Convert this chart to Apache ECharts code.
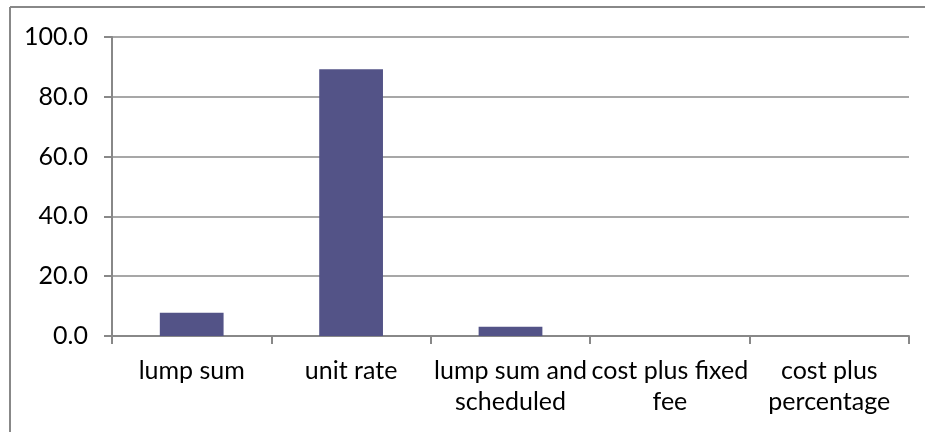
<!DOCTYPE html>
<html>
<head>
<meta charset="utf-8">
<script src="https://cdn.jsdelivr.net/npm/echarts@6/dist/echarts.min.js"></script>
<style>
  html, body { margin: 0; padding: 0; background: #fff; }
  #main { width: 925px; height: 432px; }
</style>
</head>
<body>
<div id="main"></div>
<script>
  // 合同类型
  var categories = ['lump sum', 'unit rate', 'lump sum and\nscheduled', 'cost plus fixed\nfee', 'cost plus\npercentage'];
  // 百分比
  var values = [7.8, 89.2, 3.1, 0, 0];
  var yTicks = [0, 20, 40, 60, 80, 100];

  var chart = echarts.init(document.getElementById('main'));
  chart.setOption({
    animation: false,
    textStyle: { fontFamily: 'Lato' },
    grid: { left: 112, right: 16, top: 37, bottom: 96 },
    graphic: [
      // 外框（只露出上边和左边）
      { type: 'line', shape: { x1: 10, y1: 7, x2: 925, y2: 7 }, style: { stroke: '#888', lineWidth: 2 } },
      { type: 'line', shape: { x1: 10, y1: 7, x2: 10, y2: 432 }, style: { stroke: '#888', lineWidth: 2 } }
    ],
    xAxis: {
      type: 'category',
      data: categories,
      axisLine: { lineStyle: { color: '#888', width: 2 } },
      axisTick: { show: true, length: 8, lineStyle: { color: '#888', width: 2 } },
      axisLabel: { color: '#000', fontSize: 25, lineHeight: 31, margin: 19, interval: 0 }
    },
    yAxis: {
      type: 'value',
      min: yTicks[0],
      max: yTicks[yTicks.length - 1],
      interval: 20,
      axisLine: { show: true, lineStyle: { color: '#888', width: 2 } },
      axisTick: { show: true, length: 8, lineStyle: { color: '#888', width: 2 } },
      splitLine: { lineStyle: { color: '#8a8a8a', width: 1.5 } },
      axisLabel: {
        color: '#000', fontSize: 25, margin: 24,
        formatter: function (v) { return v.toFixed(1); }
      }
    },
    series: [{
      type: 'bar',
      data: values,
      barWidth: '40%',
      itemStyle: { color: '#535387' }
    }]
  });
</script>
</body>
</html>
